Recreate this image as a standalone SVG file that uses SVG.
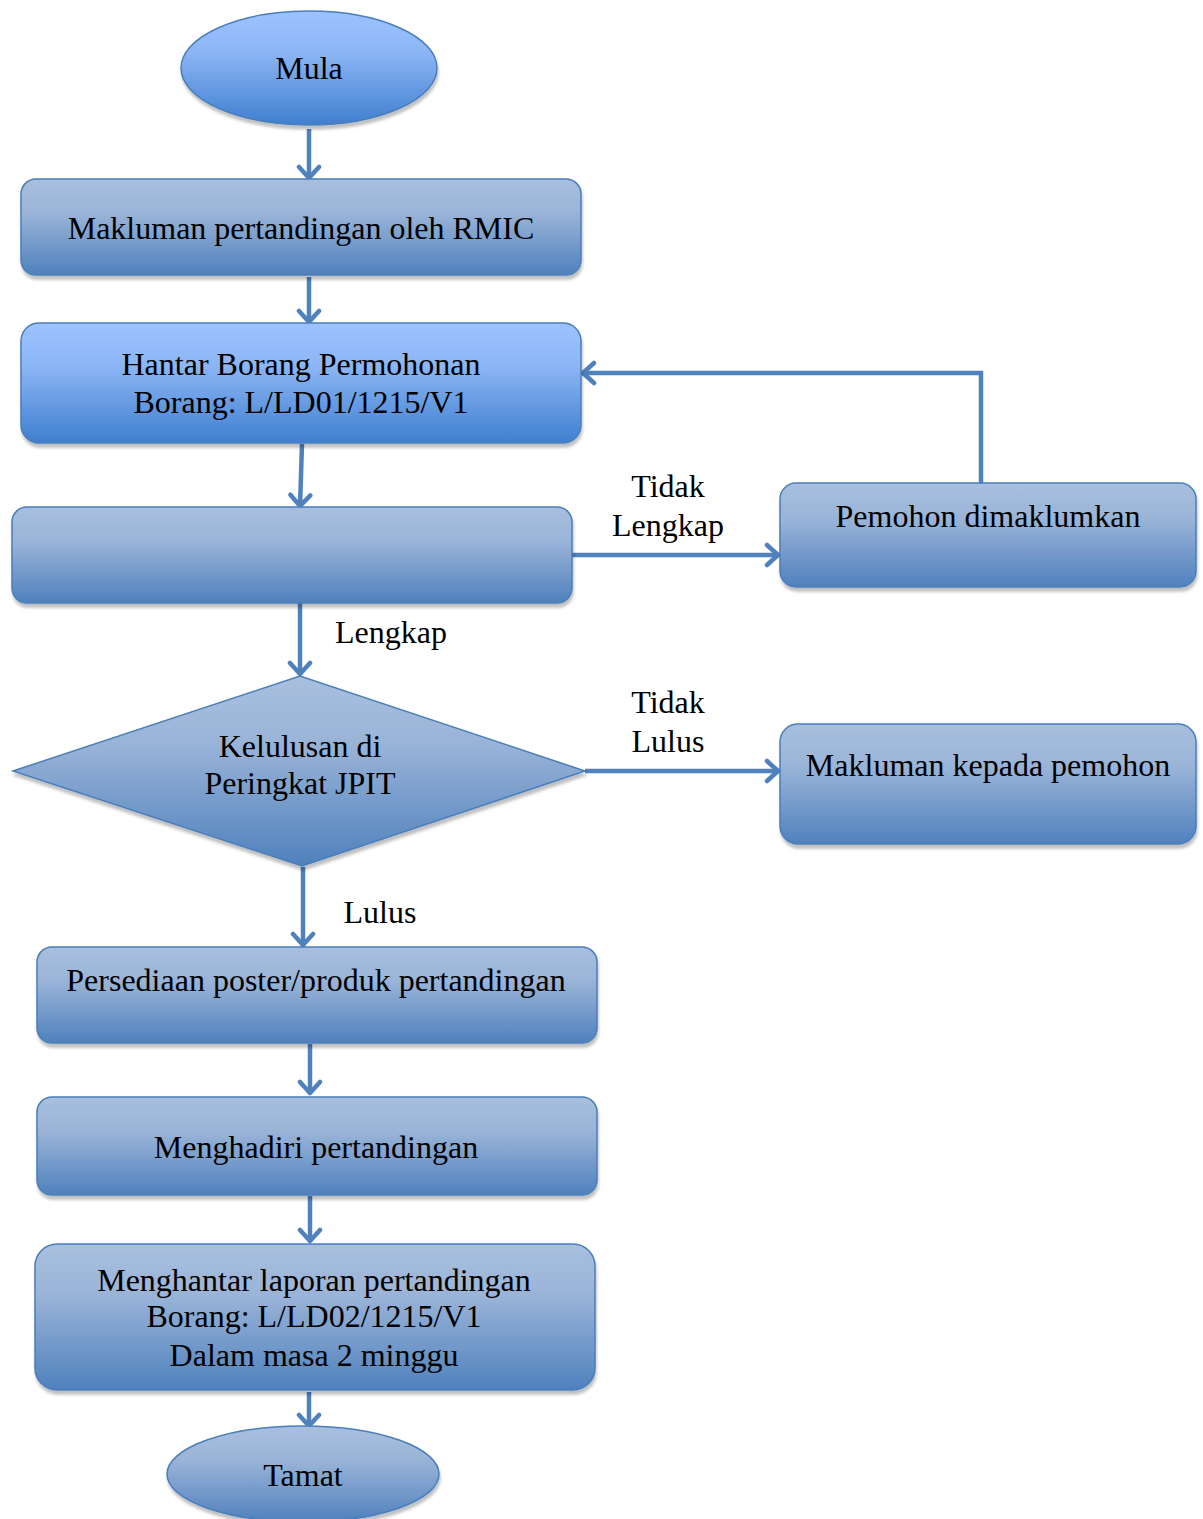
<svg xmlns="http://www.w3.org/2000/svg" width="1203" height="1519" viewBox="0 0 1203 1519">
<defs>
<linearGradient id="gBright" x1="0" y1="0" x2="0" y2="1">
<stop offset="0" stop-color="#9CC3FF"/>
<stop offset="0.35" stop-color="#8DB6F5"/>
<stop offset="1" stop-color="#3F7FCF"/>
</linearGradient>
<linearGradient id="gGrey" x1="0" y1="0" x2="0" y2="1">
<stop offset="0" stop-color="#A8BFDE"/>
<stop offset="0.35" stop-color="#9AB4D8"/>
<stop offset="1" stop-color="#4F81BD"/>
</linearGradient>
<filter id="sh" x="-5%" y="-5%" width="110%" height="125%">
<feGaussianBlur in="SourceAlpha" stdDeviation="1.5"/>
<feOffset dx="1" dy="4" result="o"/>
<feComponentTransfer in="o" result="s"><feFuncA type="linear" slope="0.25"/></feComponentTransfer>
<feMerge><feMergeNode in="s"/><feMergeNode in="SourceGraphic"/></feMerge>
</filter>
<marker id="arr" markerUnits="userSpaceOnUse" markerWidth="26" markerHeight="26" viewBox="0 0 26 26" refX="22" refY="13" orient="auto">
<path d="M10,3 L21,13 L10,23" fill="none" stroke="#4F81BD" stroke-width="4.5" stroke-linecap="round" stroke-linejoin="round"/>
</marker>
</defs>
<style>
.bright{fill:url(#gBright);stroke:#4A7EBB;stroke-width:1.5;filter:url(#sh)}
.grey{fill:url(#gGrey);stroke:#4A7EBB;stroke-width:1.5;filter:url(#sh)}
text{font-family:"Liberation Serif","Times New Roman",serif;font-size:32px;fill:#000;text-anchor:middle}
.c{fill:none;stroke:#4F81BD;stroke-width:4.5;marker-end:url(#arr)}
</style>
<rect width="1203" height="1519" fill="#fff"/>
<g id="connectors">
<line class="c" x1="309" y1="129" x2="309" y2="179"/>
<line class="c" x1="309" y1="277" x2="309" y2="323"/>
<line class="c" x1="302" y1="444" x2="300" y2="507"/>
<line class="c" x1="572" y1="555" x2="779" y2="555"/>
<polyline class="c" points="981,483 981,373 582,373"/>
<line class="c" x1="300" y1="603" x2="300" y2="675"/>
<line class="c" x1="585" y1="771" x2="779" y2="771"/>
<line class="c" x1="303" y1="867" x2="303" y2="946"/>
<line class="c" x1="310" y1="1044" x2="310" y2="1094"/>
<line class="c" x1="310" y1="1196" x2="310" y2="1242"/>
<line class="c" x1="309" y1="1392" x2="309" y2="1427"/>
<text x="668" y="497">Tidak</text>
<text x="668" y="536">Lengkap</text>
<text x="391" y="643">Lengkap</text>
<text x="668" y="713">Tidak</text>
<text x="668" y="752">Lulus</text>
<text x="380" y="923">Lulus</text>
</g>
<g id="mula">
<ellipse class="bright" cx="309" cy="68" rx="128" ry="57"/>
<text x="309" y="79">Mula</text>
</g>
<g id="makluman-rmic">
<rect class="grey" x="21" y="179" width="560" height="96" rx="15"/>
<text x="301" y="239">Makluman pertandingan oleh RMIC</text>
</g>
<g id="hantar-borang">
<rect class="bright" x="21" y="323" width="560" height="120" rx="18"/>
<text x="301" y="375">Hantar Borang Permohonan</text>
<text x="301" y="413">Borang: L/LD01/1215/V1</text>
</g>
<g id="semak">
<rect class="grey" x="12" y="507" width="560" height="96" rx="15"/>
</g>
<g id="pemohon-dimaklumkan">
<rect class="grey" x="780" y="483" width="416" height="104" rx="16"/>
<text x="988" y="527">Pemohon dimaklumkan</text>
</g>
<g id="kelulusan">
<polygon class="grey" points="13,771 300,676 585,771 302,866"/>
<text x="300" y="757">Kelulusan di</text>
<text x="300" y="794">Peringkat JPIT</text>
</g>
<g id="makluman-pemohon">
<rect class="grey" x="780" y="724" width="416" height="120" rx="18"/>
<text x="988" y="776">Makluman kepada pemohon</text>
</g>
<g id="persediaan">
<rect class="grey" x="37" y="947" width="560" height="96" rx="15"/>
<text x="316" y="991">Persediaan poster/produk pertandingan</text>
</g>
<g id="menghadiri">
<rect class="grey" x="37" y="1097" width="560" height="98" rx="15"/>
<text x="316" y="1158">Menghadiri pertandingan</text>
</g>
<g id="menghantar">
<rect class="grey" x="35" y="1244" width="560" height="146" rx="22"/>
<text x="314" y="1291">Menghantar laporan pertandingan</text>
<text x="314" y="1327">Borang: L/LD02/1215/V1</text>
<text x="314" y="1366">Dalam masa 2 minggu</text>
</g>
<g id="tamat">
<ellipse class="grey" cx="303" cy="1474" rx="136" ry="48"/>
<text x="303" y="1486">Tamat</text>
</g>
</svg>
